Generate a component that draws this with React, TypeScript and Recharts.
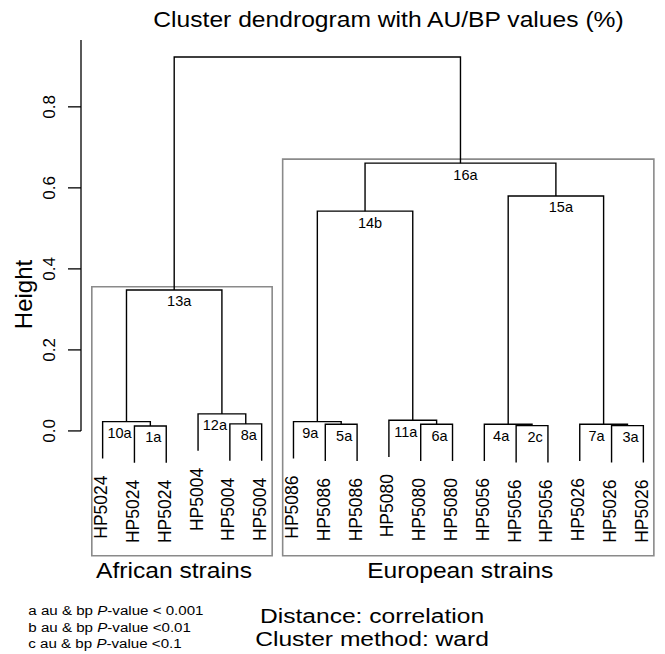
import React from "react";
import {
  ComposedChart,
  Line,
  Scatter,
  XAxis,
  YAxis,
  ReferenceArea,
  ReferenceLine,
} from "recharts";

// ---------- data ----------
const leafLabels = [
  "HP5024", "HP5024", "HP5024", "HP5004", "HP5004", "HP5004",
  "HP5086", "HP5086", "HP5086", "HP5080", "HP5080", "HP5080",
  "HP5056", "HP5056", "HP5056", "HP5026", "HP5026", "HP5026",
];

// merge table (R style: negative = leaf index, positive = earlier merge, 1-based)
const mergeLeft = [-2, -1, -5, -4, 2, -8, -7, -11, -10, 7, -14, -13, -17, -16, 12, 10, 5];
const mergeRight = [-3, 1, -6, 3, 4, -9, 6, -12, 8, 9, -15, 11, -18, 13, 14, 15, 16];
const nodeHeights = [
  0.0123, 0.023, 0.0173, 0.042, 0.348, 0.0165, 0.023, 0.0165, 0.0264,
  0.5425, 0.013, 0.0165, 0.013, 0.0165, 0.58, 0.661, 0.923,
];
const nodeLabels = [
  "1a", "10a", "8a", "12a", "13a", "5a", "9a", "6a", "11a",
  "14b", "2c", "4a", "3a", "7a", "15a", "16a", "",
];

const yTicks = [0, 0.2, 0.4, 0.6, 0.8];

const clusterNames = ["African strains", "European strains"];
const clusterFirstLeaf = [1, 7];
const clusterLastLeaf = [6, 18];
const clusterTopHeight = [0.356, 0.671];

const pValueLetters = ["a", "b", "c"];
const pValueConds = ["< 0.001", "<0.01", "<0.1"];

const titleText = "Cluster dendrogram with AU/BP values (%)";
const yLabelText = "Height";
const methodLines = ["Distance: correlation", "Cluster method: ward"];

// ---------- layout constants ----------
const HANG = 0.091;
const X_MIN = 0.32;
const X_MAX = 18.68;
const Y_MIN = -0.308;
const Y_MAX = 0.965;
const STRETCH = 1.12;
const FONT = "'Liberation Sans', Arial, Helvetica, sans-serif";
const W = 665;
const H = 654;

// ---------- derived geometry (from the data) ----------
const nodeX: number[] = [];
const xOf = (ref: number) => (ref < 0 ? -ref : nodeX[ref - 1]);
const yOf = (ref: number, parentH: number) =>
  ref < 0 ? parentH - HANG : nodeHeights[ref - 1];
nodeHeights.forEach((_, i) => {
  nodeX[i] = (xOf(mergeLeft[i]) + xOf(mergeRight[i])) / 2;
});

const links = nodeHeights.map((h, i) => [
  { x: xOf(mergeLeft[i]), y: yOf(mergeLeft[i], h) },
  { x: xOf(mergeLeft[i]), y: h },
  { x: xOf(mergeRight[i]), y: h },
  { x: xOf(mergeRight[i]), y: yOf(mergeRight[i], h) },
]);

const leafPoints = leafLabels.map((label, i) => {
  const ref = -(i + 1);
  const p = mergeLeft.findIndex((v, k) => v === ref || mergeRight[k] === ref);
  return { x: i + 1, y: nodeHeights[p] - HANG, label };
});

const nodePoints = nodeLabels
  .map((label, i) => ({
    x: nodeX[i],
    y: nodeHeights[i],
    label,
    small: nodeHeights[i] < 0.1,
    rightIsNode: mergeRight[i] > 0,
  }))
  .filter((d) => d.label !== "");

// ---------- renderers ----------
const YTick = (props: any) => {
  const { x, y, payload } = props;
  const bx = x - 13;
  return (
    <text
      x={bx}
      y={y}
      transform={`rotate(-90, ${bx}, ${y})`}
      textAnchor="middle"
      fontSize={17}
      fontFamily={FONT}
      fill="#000"
    >
      {Number(payload.value).toFixed(1)}
    </text>
  );
};

const NodeLabel = (props: any) => {
  const { cx, cy, payload } = props;
  if (cx == null || cy == null) return <g />;
  const dx = payload.small ? (payload.rightIsNode ? -7 : 3) : 5;
  const dy = 16.5;
  return (
    <text
      x={cx + dx}
      y={cy + dy}
      textAnchor="middle"
      fontSize={14.5}
      fontFamily={FONT}
      fill="#000"
    >
      {payload.label}
    </text>
  );
};

const LeafLabel = (props: any) => {
  const { cx, cy, payload } = props;
  if (cx == null || cy == null) return <g />;
  const tx = cx + 4.5;
  const ty = cy + 17;
  return (
    <text
      x={tx}
      y={ty}
      transform={`rotate(-90, ${tx}, ${ty})`}
      textAnchor="end"
      fontSize={17.5}
      fontFamily={FONT}
      fill="#000"
    >
      {payload.label}
    </text>
  );
};

const makeClusterLabel = (name: string) => (p: any) => {
  const vb = p.viewBox || {};
  const cx = vb.x + vb.width / 2 - 8;
  const by = vb.y + vb.height + 22.5;
  return (
    <text
      transform={`translate(${cx}, ${by}) scale(${STRETCH}, 1)`}
      textAnchor="middle"
      fontSize={22}
      fontFamily={FONT}
      fill="#000"
    >
      {name}
    </text>
  );
};

export default function App() {
  return (
    <div
      style={{
        position: "absolute",
        left: 0,
        top: 0,
        width: W,
        height: H,
        background: "#fff",
        fontFamily: FONT,
      }}
    >
      <ComposedChart
        width={W}
        height={H}
        margin={{ top: 40, right: 0, bottom: H - 555.7, left: 0 }}
      >
        <XAxis
          type="number"
          dataKey="x"
          domain={[X_MIN, X_MAX]}
          allowDataOverflow
          hide
        />
        <YAxis
          type="number"
          dataKey="y"
          domain={[Y_MIN, Y_MAX]}
          allowDataOverflow
          ticks={yTicks}
          interval={0}
          width={81}
          axisLine={false}
          tickLine={{ stroke: "#000", strokeWidth: 1.3 }}
          tickSize={13}
          tickMargin={0}
          tick={<YTick />}
        />
        <ReferenceLine
          segment={[
            { x: X_MIN, y: 0 },
            { x: X_MIN, y: Y_MAX },
          ]}
          stroke="#000"
          strokeWidth={1.3}
          ifOverflow="visible"
        />
        {clusterNames.map((name, i) => (
          <ReferenceArea
            key={name}
            x1={clusterFirstLeaf[i] - 0.34}
            x2={clusterLastLeaf[i] + 0.33}
            y1={Y_MIN}
            y2={clusterTopHeight[i]}
            fill="none"
            fillOpacity={0}
            stroke="#8a8a8a"
            strokeWidth={1.6}
            ifOverflow="visible"
            label={makeClusterLabel(name)}
          />
        ))}
        {links.map((pts, i) => (
          <Line
            key={`link-${i}`}
            data={pts}
            dataKey="y"
            type="linear"
            stroke="#000"
            strokeWidth={1.4}
            dot={false}
            activeDot={false}
            isAnimationActive={false}
            legendType="none"
          />
        ))}
        <Scatter
          data={nodePoints}
          dataKey="y"
          shape={<NodeLabel />}
          isAnimationActive={false}
          legendType="none"
        />
        <Scatter
          data={leafPoints}
          dataKey="y"
          shape={<LeafLabel />}
          isAnimationActive={false}
          legendType="none"
        />
      </ComposedChart>
      <svg
        width={W}
        height={H}
        style={{ position: "absolute", left: 0, top: 0, pointerEvents: "none" }}
      >
        <text
          transform={`translate(388.5, 27) scale(${STRETCH}, 1)`}
          textAnchor="middle"
          fontSize={22}
          fontFamily={FONT}
          fill="#000"
        >
          {titleText}
        </text>
        <text
          x={32}
          y={294.5}
          transform="rotate(-90, 32, 294.5)"
          textAnchor="middle"
          fontSize={24}
          fontFamily={FONT}
          fill="#000"
        >
          {yLabelText}
        </text>
        {pValueLetters.map((l, i) => (
          <text
            key={l}
            transform={`translate(28.3, ${615 + i * 16.7}) scale(${STRETCH}, 1)`}
            fontSize={13.5}
            fontFamily={FONT}
            fill="#000"
          >
            {`${l} au & bp `}
            <tspan fontStyle="italic">P</tspan>
            {`-value ${pValueConds[i]}`}
          </text>
        ))}
        {methodLines.map((t, i) => (
          <text
            key={t}
            transform={`translate(372, ${622.5 + i * 23.5}) scale(1.23, 1)`}
            textAnchor="middle"
            fontSize={20}
            fontFamily={FONT}
            fill="#000"
          >
            {t}
          </text>
        ))}
      </svg>
    </div>
  );
}
